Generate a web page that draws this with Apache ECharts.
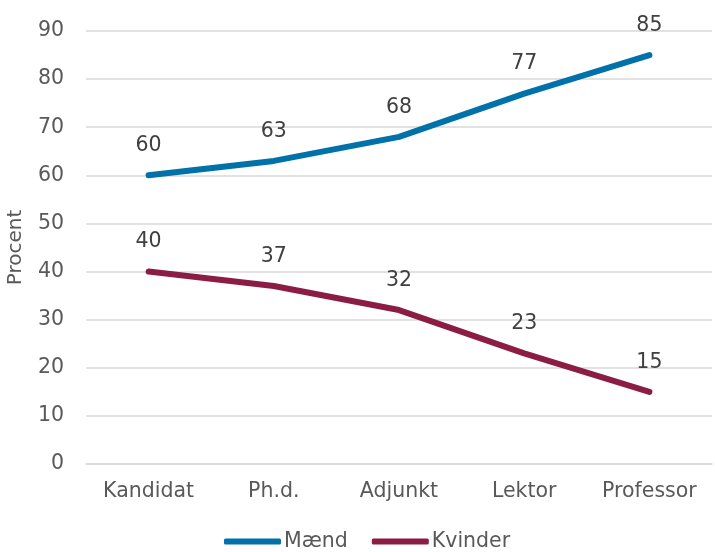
<!DOCTYPE html>
<html><head><meta charset="utf-8">
<script src="https://cdn.jsdelivr.net/npm/echarts@6/dist/echarts.min.js"></script>
<style>html,body{margin:0;padding:0;background:#fff}#c{width:715px;height:552px}</style>
</head><body><div id="c"></div>
<script>
const categories = ["Kandidat", "Ph.d.", "Adjunkt", "Lektor", "Professor"];
const maend = [60, 63, 68, 77, 85];
const kvinder = [40, 37, 32, 23, 15];
const seriesNames = ["Mænd", "Kvinder"];
const colors = ["#0071A9", "#8B1C44"];
const font = "DejaVu Sans, Verdana, sans-serif";
const chart = echarts.init(document.getElementById('c'));
function mk(name, data, color) {
  return {
    name, type: 'line', data, symbol: 'circle', symbolSize: 0, showSymbol: true, smooth: false,
    lineStyle: { width: 6, color: color, cap: 'round', join: 'round' },
    itemStyle: { color: color },
    label: { show: true, position: 'top', distance: 19, color: '#404040', fontSize: 20.5, fontFamily: font }
  };
}
chart.setOption({
  animation: false,
  grid: { left: 86, right: 3, top: 31, bottom: 88, containLabel: false, outerBoundsMode: 'none' },
  legend: {
    bottom: -5, left: 219, itemWidth: 57, itemHeight: 6, itemGap: 24,
    icon: 'roundRect',
    textStyle: { color: '#595959', fontSize: 20.5, fontFamily: font, padding: [0, 0, 0, -2] },
    data: seriesNames
  },
  xAxis: {
    type: 'category', data: categories, boundaryGap: true,
    axisLine: { lineStyle: { color: '#D9D9D9', width: 1.5 } },
    axisTick: { show: false },
    axisLabel: { color: '#595959', fontSize: 20.5, fontFamily: font, margin: 17 }
  },
  yAxis: {
    type: 'value', min: 0, max: 90, interval: 10,
    name: 'Procent', nameLocation: 'middle', nameGap: 60, nameRotate: 90,
    nameTextStyle: { color: '#595959', fontSize: 20, fontFamily: font },
    axisLine: { show: false }, axisTick: { show: false },
    axisLabel: { color: '#595959', fontSize: 20.5, fontFamily: font, margin: 22 },
    splitLine: { lineStyle: { color: '#D9D9D9', width: 1.5 } }
  },
  series: [mk(seriesNames[0], maend, colors[0]), mk(seriesNames[1], kvinder, colors[1])]
});
</script></body></html>
